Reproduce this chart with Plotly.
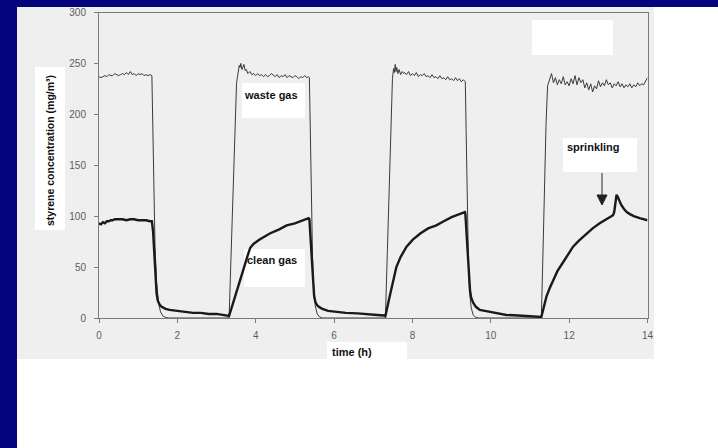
import plotly.graph_objects as go

# Waste gas (inlet) styrene concentration, mg/m3, against time in hours
waste_time = [
    0.00, 0.05, 0.10, 0.15, 0.20, 0.25, 0.30, 0.35, 0.40, 0.45, 0.50, 0.55, 0.60, 0.65,
    0.70, 0.75, 0.80, 0.85, 0.90, 0.95, 1.00, 1.05, 1.10, 1.15, 1.20, 1.25, 1.30, 1.35,
    1.37, 1.40, 1.43, 1.47, 1.52, 1.57, 1.63, 1.70, 1.80, 2.50, 3.30,
    3.32, 3.37, 3.42, 3.47, 3.51, 3.53, 3.56, 3.58, 3.60, 3.62, 3.65, 3.68, 3.70, 3.73,
    3.76, 3.80, 3.85, 3.90, 3.95, 4.00, 4.05, 4.10, 4.15, 4.20, 4.25, 4.30, 4.35, 4.40,
    4.45, 4.50, 4.55, 4.60, 4.65, 4.70, 4.75, 4.80, 4.85, 4.90, 4.95, 5.00, 5.05, 5.10,
    5.15, 5.20, 5.25, 5.30, 5.35,
    5.37, 5.39, 5.42, 5.45, 5.48, 5.52, 5.57, 5.63, 5.70, 6.50, 7.29,
    7.31, 7.36, 7.41, 7.46, 7.49, 7.52, 7.54, 7.56, 7.58, 7.60, 7.63, 7.66, 7.70, 7.74,
    7.78, 7.80, 7.85, 7.90, 7.95, 8.00, 8.05, 8.10, 8.15, 8.20, 8.25, 8.30, 8.35, 8.40,
    8.45, 8.50, 8.55, 8.60, 8.65, 8.70, 8.75, 8.80, 8.85, 8.90, 8.95, 9.00, 9.05, 9.10,
    9.15, 9.20, 9.25, 9.30, 9.33,
    9.35, 9.37, 9.40, 9.43, 9.46, 9.50, 9.55, 9.62, 9.70, 10.50, 11.28,
    11.29, 11.33, 11.37, 11.41, 11.45, 11.50, 11.55, 11.60, 11.65, 11.70, 11.75, 11.80,
    11.85, 11.90, 11.95, 12.00, 12.05, 12.10, 12.15, 12.20, 12.25, 12.30, 12.35, 12.40,
    12.45, 12.50, 12.55, 12.60, 12.65, 12.70, 12.75, 12.80, 12.85, 12.90, 12.95, 13.00,
    13.05, 13.10, 13.15, 13.20, 13.25, 13.30, 13.35, 13.40, 13.45, 13.50, 13.55, 13.60,
    13.65, 13.70, 13.75, 13.80, 13.85, 13.90, 13.95, 14.00,
]
waste_conc = [
    237, 236, 237, 238, 237, 239, 238, 238, 240, 239, 238, 239, 240, 239,
    241, 239, 242, 239, 240, 238, 240, 239, 240, 238, 239, 238, 239, 238,
    200, 120, 70, 35, 15, 6, 2, 0.5, 0, 0, 0,
    0, 60, 125, 190, 230, 236, 244, 248, 246, 250, 244, 247, 249, 243,
    244, 240, 242, 239, 240, 238, 240, 238, 239, 237, 239, 237, 238, 240,
    238, 237, 239, 236, 238, 237, 239, 236, 238, 237, 236, 238, 237, 235,
    237, 236, 238, 236, 237,
    236, 190, 110, 60, 30, 12, 4, 1, 0, 0, 0,
    0, 65, 135, 200, 235, 245, 241, 249, 242, 246, 240, 244, 239, 242,
    240, 241, 239, 242, 238, 240, 238, 241, 237, 239, 238, 240, 237, 238,
    236, 239, 236, 237, 235, 238, 235, 236, 234, 237, 234, 235, 233, 236,
    233, 235, 232, 234, 232,
    232, 185, 105, 55, 25, 10, 3, 0.5, 0, 0, 0,
    0, 60, 130, 190, 228, 233, 240, 231, 236, 229, 234, 230,
    237, 229, 232, 228, 235, 230, 238, 229, 236, 231, 234, 226,
    231, 224, 230, 222, 228, 225, 233, 227, 231, 228, 234, 229,
    231, 226, 230, 228, 232, 227, 230, 226, 229, 227, 230, 226,
    229, 227, 231, 228, 230, 229, 233, 236,
]

# Clean gas (outlet) styrene concentration, mg/m3, against time in hours
clean_time = [
    0.00, 0.05, 0.10, 0.15, 0.20, 0.25, 0.30, 0.35, 0.40, 0.45, 0.50, 0.60, 0.70, 0.80,
    0.90, 1.00, 1.10, 1.20, 1.30, 1.35,
    1.38, 1.41, 1.44, 1.47, 1.50, 1.55, 1.60, 1.70, 1.80, 2.00, 2.20, 2.40, 2.60, 2.80,
    3.00, 3.20, 3.32,
    3.40, 3.50, 3.60, 3.70, 3.80, 3.86, 3.95, 4.10, 4.36, 4.60, 4.79, 5.00, 5.20, 5.35,
    5.37, 5.40, 5.43, 5.46, 5.49, 5.52, 5.56, 5.61, 5.70, 5.85, 6.04, 6.30, 6.60, 6.89,
    7.10, 7.28, 7.31,
    7.40, 7.50, 7.59, 7.70, 7.85, 8.01, 8.20, 8.40, 8.61, 8.80, 9.00, 9.20, 9.34,
    9.35, 9.38, 9.41, 9.44, 9.47, 9.50, 9.55, 9.62, 9.72, 9.85, 9.97, 10.20, 10.40,
    10.70, 11.00, 11.28, 11.29,
    11.35, 11.42, 11.50, 11.59, 11.70, 11.85, 12.00, 12.10, 12.25, 12.44, 12.60, 12.78,
    12.95, 13.12, 13.15, 13.18, 13.21, 13.24, 13.28, 13.33, 13.40, 13.47, 13.55, 13.65,
    13.80, 13.90, 14.00,
]
clean_conc = [
    93, 92, 94, 93, 95, 95, 96, 96, 97, 97, 97, 97, 96, 97,
    97, 96, 96, 96, 95, 95,
    85, 60, 38, 24, 17, 13, 11, 9, 8, 7, 6, 5, 5, 4,
    4, 3, 2,
    12, 25, 38, 50, 62, 69, 73, 77, 83, 87, 91, 93, 96, 98,
    97, 80, 55, 35, 22, 16, 13, 11, 9, 7, 6, 5, 4.5, 4,
    3, 2.5, 2,
    18, 35, 50, 60, 70, 77, 83, 88, 91, 95, 99, 102, 104,
    103, 85, 60, 40, 27, 20, 15, 11, 8, 7, 6, 4, 3,
    2.5, 2, 1.5, 1,
    10, 21, 29, 37, 46, 55, 64, 70, 76, 83, 88, 93,
    97, 101, 104, 115, 121, 119, 115, 111, 107, 104, 102, 100,
    98, 97, 96,
]

x_ticks = [0, 2, 4, 6, 8, 10, 12, 14]
y_ticks = [0, 50, 100, 150, 200, 250, 300]

W, H = 718, 448


def px(x):
    return x / W


def py(y):
    return 1 - y / H


BLUE = "#04047f"
SCAN_GREY = "#efefef"
FONT = "Liberation Sans, Arial, sans-serif"

fig = go.Figure()
fig.add_trace(go.Scatter(x=waste_time, y=waste_conc, mode="lines",
                         line=dict(color="#3a3a3a", width=1), name="waste gas",
                         showlegend=False))
fig.add_trace(go.Scatter(x=clean_time, y=clean_conc, mode="lines",
                         line=dict(color="#1a1a1a", width=2.4), name="clean gas",
                         showlegend=False))


def rect(x0, y0, x1, y1, color, layer="below"):
    return dict(type="rect", xref="paper", yref="paper",
                x0=px(x0), x1=px(x1), y0=py(y1), y1=py(y0),
                fillcolor=color, line=dict(width=0), layer=layer)


shapes = [
    rect(0, 0, W, 7, BLUE),
    rect(0, 0, 17, H, BLUE),
    rect(17, 7, 654, 359, SCAN_GREY),
    # white label panels
    rect(35, 67, 65, 230, "white"),
    rect(242, 83, 305, 118, "white"),
    rect(244, 249, 305, 287, "white"),
    rect(563, 138, 637, 172, "white"),
    rect(532, 20, 613, 55, "white"),
    rect(327, 342, 407, 361, "white"),
    # arrow pointing at the sprinkling event
    dict(type="line", xref="paper", yref="paper",
         x0=px(602), x1=px(602), y0=py(173), y1=py(197),
         line=dict(color="#222", width=1)),
    dict(type="path", xref="paper", yref="paper",
         path=f"M {px(597)} {py(195)} L {px(607)} {py(195)} L {px(602)} {py(205)} Z",
         fillcolor="#222", line=dict(color="#222", width=1)),
]


def label(text, x, y, size=11, angle=0):
    return dict(text=f"<b>{text}</b>", xref="paper", yref="paper",
                x=px(x), y=py(y), showarrow=False, textangle=angle,
                xanchor="center", yanchor="middle",
                font=dict(family=FONT, size=size, color="#111"))


annotations = [
    label("styrene concentration (mg/m³)", 50, 151, size=10.5, angle=-90),
    label("waste gas", 271, 95),
    label("clean gas", 272, 260),
    label("sprinkling", 593, 147),
    label("time (h)", 352, 352),
]

axis_common = dict(showgrid=False, zeroline=False, showline=True, mirror=True,
                   automargin=False,
                   linecolor="#7a7a7a", linewidth=1, ticks="outside", ticklen=4,
                   tickcolor="#7a7a7a",
                   tickfont=dict(family=FONT, size=10, color="#5c5c5c"))

fig.update_layout(
    template="none",
    width=W, height=H,
    autosize=False,
    margin=dict(l=0, r=0, t=0, b=0, pad=0, autoexpand=False),
    paper_bgcolor="white",
    plot_bgcolor="rgba(0,0,0,0)",
    showlegend=False,
    shapes=shapes,
    annotations=annotations,
    xaxis=dict(domain=[px(99), px(647.5)], range=[0, 14], tickvals=x_ticks,
               ticklabelstandoff=4, **axis_common),
    yaxis=dict(domain=[py(318), py(12.5)], range=[0, 300], tickvals=y_ticks,
               ticklabelstandoff=6, **axis_common),
)

fig.write_html(
    "out.html",
    config={"displayModeBar": False},
    post_script="document.body.style.margin='0';document.body.style.overflow='hidden';",
)
